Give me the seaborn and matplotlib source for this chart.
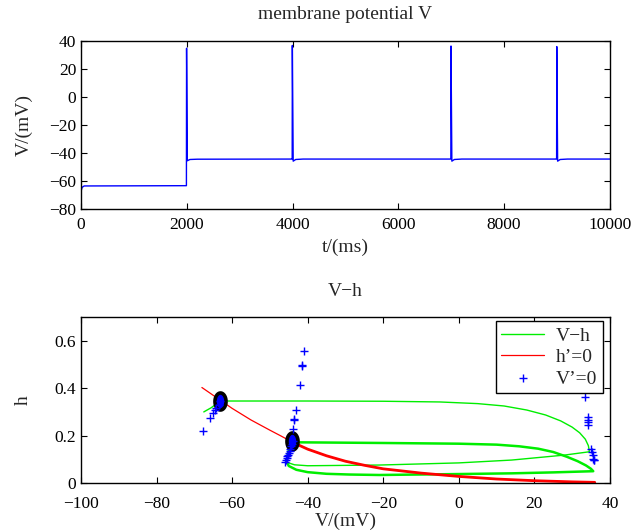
import numpy as np
import pandas as pd
import matplotlib
matplotlib.use("Agg")
import matplotlib.pyplot as plt
from matplotlib.path import Path
import seaborn as sns

# ---- membrane potential trace (ms, mV) ----
t_ms = [0, 20, 60, 1000, 1990, 1993, 1996, 2010, 2060, 2200,
        3990, 3993, 3996, 4012, 4060, 4200,
        6990, 6993, 6996, 7012, 7060, 7200,
        8990, 8993, 8996, 9012, 9060, 9200, 10000]
V_mV = [-67.4, -64.5, -63.5, -63.4, -63.3, -63.3, 34.8, -45.5, -44.6, -44.4,
        -44.3, -44.3, 36.8, -45.8, -44.6, -44.3,
        -44.3, -44.3, 36.4, -45.8, -44.6, -44.3,
        -44.3, -44.3, 36.0, -45.8, -44.6, -44.3, -44.3]

# ---- V-h phase plane ----
# first excursion (from rest to the first spike and back)
traj1_V = [-67.5, -65.5, -63.2, -40, -20, -5, 5, 12, 18, 23, 27, 30, 32, 33.5, 34.3, 34.6,
           28, 14, 0, -21, -40, -43.5, -45.2, -45.6, -45.3, -44.8, -44.3]
traj1_h = [0.300, 0.318, 0.346, 0.346, 0.345, 0.342, 0.335, 0.325, 0.308, 0.287, 0.262,
           0.236, 0.212, 0.185, 0.158, 0.132,
           0.118, 0.097, 0.085, 0.076, 0.073, 0.077, 0.086, 0.097, 0.120, 0.150, 0.175]
# repeated cycle for the later spikes
cyc_V = [-44.3, -20, 0, 10, 16, 21, 25, 28.6, 31.5, 33.7, 35.0, 35.6,
         25, 14, 0, -21, -29, -35, -40, -43, -45.0, -45.6, -45.3, -44.8, -44.3]
cyc_h = [0.172, 0.169, 0.166, 0.162, 0.155, 0.145, 0.131, 0.111, 0.092, 0.074, 0.060, 0.050,
         0.045, 0.041, 0.038, 0.034, 0.036, 0.039, 0.046, 0.056, 0.072, 0.092, 0.120, 0.150, 0.172]

# h nullcline (h' = 0)
null_V = [-68, -65, -63, -60, -55, -50, -47, -44, -40, -35, -30, -25, -20,
          -10, 0, 10, 20, 30, 36]
null_h = [0.403, 0.37, 0.348, 0.315, 0.266, 0.223, 0.198, 0.172, 0.143, 0.115, 0.092,
          0.075, 0.060, 0.042, 0.028, 0.017, 0.010, 0.005, 0.003]

# V nullcline samples (V' = 0)
vnull_V = [-67.7, -65.9, -65.1, -64.5, -64.2, -63.6, -63.2,
           -46.0, -45.8, -45.6, -45.4, -45.2, -45.0, -44.8, -44.6, -44.4, -44.2, -44.0,
           -43.9, -43.5, -43.6, -43.0, -42.1, -41.5, -41.5, -41.0,
           33.5, 34.1, 34.1, 34.2, 34.3, 35.1, 35.3, 35.5, 35.6, 35.7, 35.9]
vnull_h = [0.220, 0.273, 0.294, 0.310, 0.317, 0.330, 0.347,
           0.090, 0.098, 0.105, 0.112, 0.120, 0.128, 0.136, 0.145, 0.155, 0.165, 0.177,
           0.227, 0.266, 0.271, 0.306, 0.415, 0.495, 0.499, 0.559,
           0.361, 0.277, 0.266, 0.256, 0.246, 0.144, 0.130, 0.119, 0.102, 0.096, 0.099]

# equilibrium points
eq_V = [-63.3, -44.2]
eq_h = [0.347, 0.178]

sns.set_theme(style="ticks")
plt.rcParams["font.family"] = ["Liberation Serif", "DejaVu Serif"]
plt.rcParams["axes.unicode_minus"] = True
FS_TICK = 12.5
FS_LAB = 14

fig = plt.figure(figsize=(6.44, 5.32), dpi=100)
ax1 = fig.add_axes([0.1258, 0.607, 0.8212, 0.316])
ax2 = fig.add_axes([0.1258, 0.092, 0.8212, 0.312])

for ax in (ax1, ax2):
    ax.tick_params(direction="in", top=True, right=True, labelsize=FS_TICK,
                   length=4, width=0.8, colors="black")
    for s in ax.spines.values():
        s.set_linewidth(1.0)
        s.set_color("black")
    ax.set_facecolor("white")
ax1.tick_params(axis="x", pad=6)
ax2.tick_params(axis="x", pad=9)

# top panel
df_v = pd.DataFrame({"t": t_ms, "V": V_mV})
sns.lineplot(data=df_v, x="t", y="V", ax=ax1, color="#0000ff", linewidth=1.0,
             sort=False, estimator=None)
ax1.set_xlim(0, 10000)
ax1.set_ylim(-80, 40)
ax1.set_xticks(range(0, 10001, 2000))
ax1.set_yticks(range(-80, 41, 20))
ax1.set_title("membrane potential V", fontsize=FS_LAB, pad=16)
ax1.set_xlabel("t/(ms)", fontsize=FS_LAB, labelpad=4)
ax1.set_ylabel("V/(mV)", fontsize=FS_LAB, labelpad=12)

# bottom panel
df_t1 = pd.DataFrame({"V": traj1_V, "h": traj1_h})
df_cy = pd.DataFrame({"V": cyc_V, "h": cyc_h})
df_nc = pd.DataFrame({"V": null_V, "h": null_h})
df_vn = pd.DataFrame({"V": vnull_V, "h": vnull_h})

sns.lineplot(data=df_t1, x="V", y="h", ax=ax2, color="#00ee00", linewidth=1.0,
             sort=False, estimator=None, label="V\u2212h")
sns.lineplot(data=df_cy, x="V", y="h", ax=ax2, color="#00ee00", linewidth=1.8,
             sort=False, estimator=None)
sns.lineplot(data=df_nc, x="V", y="h", ax=ax2, color="#ff0000", linewidth=0.9,
             sort=False, estimator=None, label="h\u2019=0")
df_nc_thick = df_nc[df_nc["V"] >= -44]
sns.lineplot(data=df_nc_thick, x="V", y="h", ax=ax2, color="#ff0000", linewidth=2.0,
             sort=False, estimator=None)

# equilibrium markers (slightly elongated rings)
theta = np.linspace(0, 2 * np.pi, 60)
ell = Path(np.column_stack([0.65 * np.cos(theta), np.sin(theta)]))
ax2.scatter(eq_V, eq_h, marker=ell, s=150, facecolors="#0000ff",
            edgecolors="black", linewidths=2.6, zorder=4)

sns.scatterplot(data=df_vn, x="V", y="h", ax=ax2, marker="+", color="#0000ff",
                s=38, linewidth=1.0, label="V\u2019=0", zorder=5)

ax2.set_xlim(-100, 40)
ax2.set_ylim(0, 0.7)
ax2.set_xticks(range(-100, 41, 20))
ax2.set_yticks([0, 0.2, 0.4, 0.6])
ax2.set_yticklabels(["0", "0.2", "0.4", "0.6"])
ax2.set_title("V\u2212h", fontsize=FS_LAB, pad=15)
ax2.set_xlabel("V/(mV)", fontsize=FS_LAB, labelpad=1)
ax2.set_ylabel("h", fontsize=FS_LAB, labelpad=16)

leg = ax2.legend(loc="upper right", bbox_to_anchor=(0.987, 0.976), borderaxespad=0,
                 fontsize=FS_LAB, frameon=True, fancybox=False, framealpha=1,
                 edgecolor="black", handlelength=2.2, handletextpad=0.6,
                 borderpad=0.3, labelspacing=0.2)
leg.get_frame().set_linewidth(1.0)

fig.savefig("out.png", dpi=100, facecolor="white")
